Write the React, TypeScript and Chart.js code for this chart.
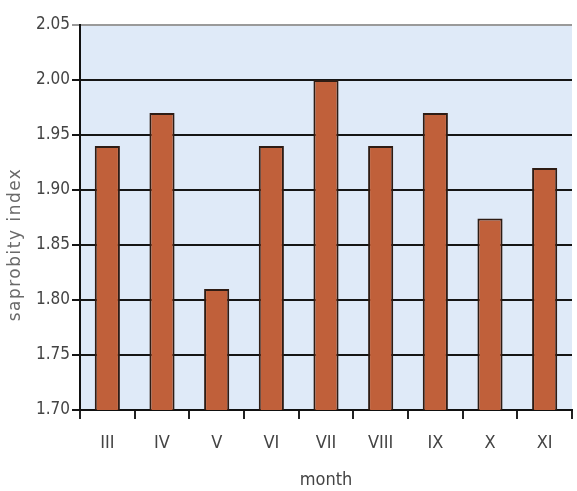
import React, { useEffect, useRef } from "react";
import { Chart, registerables } from "chart.js";

Chart.register(...registerables);

const months = ["III", "IV", "V", "VI", "VII", "VIII", "IX", "X", "XI"];
const saprobityIndex = [1.94, 1.97, 1.81, 1.94, 2.0, 1.94, 1.97, 1.874, 1.92];
const yTicks = [1.7, 1.75, 1.8, 1.85, 1.9, 1.95, 2.0, 2.05];
const yTitle = "saprobity index";

const FONT = "'Liberation Sans Narrow', 'DejaVu Sans Condensed', 'Arial Narrow', sans-serif";

const bgPlugin = {
  id: "plotBg",
  beforeDraw(chart: any) {
    const { ctx, chartArea } = chart;
    if (!chartArea) return;
    ctx.save();
    ctx.fillStyle = "#dfeaf8";
    ctx.fillRect(chartArea.left, chartArea.top, chartArea.right - chartArea.left, chartArea.bottom - chartArea.top);
    ctx.restore();
  },
  afterDraw(chart: any) {
    const { ctx, chartArea } = chart;
    ctx.save();
    ctx.translate(16, chartArea.top + (chartArea.bottom - chartArea.top) * 0.57);
    ctx.rotate(-Math.PI / 2);
    ctx.fillStyle = "#6a6a6a";
    ctx.font = "17px 'DejaVu Sans', sans-serif";
    (ctx as any).letterSpacing = "1.5px";
    ctx.textAlign = "center";
    ctx.textBaseline = "middle";
    ctx.fillText(yTitle, 0, 0);
    ctx.restore();
  },
};

export default function App() {
  const ref = useRef<HTMLCanvasElement>(null);
  useEffect(() => {
    if (!ref.current) return;
    const chart = new Chart(ref.current, {
      type: "bar",
      data: {
        labels: months,
        datasets: [
          {
            data: saprobityIndex,
            backgroundColor: "#c0603a",
            borderColor: "#2e1c14",
            borderWidth: 2,
            borderSkipped: "bottom",
            barPercentage: 0.46,
            categoryPercentage: 1,
          },
        ],
      },
      options: {
        animation: false,
        responsive: false,
        maintainAspectRatio: false,
        layout: { padding: { top: 25, right: 5, left: 0, bottom: 0 } },
        plugins: { legend: { display: false }, tooltip: { enabled: false } },
        scales: {
          x: {
            offset: true,
            grid: {
              offset: true,
              drawOnChartArea: false,
              drawTicks: true,
              tickLength: 9,
              color: "#222",
              lineWidth: 2,
            },
            border: { display: true, color: "#111", width: 2 },
            ticks: { color: "#444", font: { family: FONT, size: 18 }, padding: 14 },
            title: { display: true, text: "month", color: "#444", font: { family: FONT, size: 18 }, padding: { top: 4, bottom: 0 } },
            afterFit(axis: any) {
              axis.height = 81;
            },
          },
          y: {
            min: 1.7,
            max: 2.05,
            afterBuildTicks(axis: any) {
              axis.ticks = yTicks.map((v) => ({ value: v }));
            },
            grid: {
              color: (c: any) => (c.tick && Math.abs(c.tick.value - 2.05) < 1e-6 ? "#9a9a9a" : "#151515"),
              lineWidth: 2,
              tickLength: 8,
            },
            border: { display: true, color: "#111", width: 2 },
            ticks: {
              color: "#444",
              font: { family: FONT, size: 17 },
              padding: 2,
              callback: (v: any) => Number(v).toFixed(2),
            },
            afterFit(axis: any) {
              axis.width = 80;
            },
          },
        },
      },
      plugins: [bgPlugin],
    });
    return () => chart.destroy();
  }, []);
  return (
    <div style={{ position: "absolute", left: 0, top: 0, width: 577, height: 491, background: "#fff" }}>
      <canvas ref={ref} width={577} height={491} style={{ width: 577, height: 491 }} />
    </div>
  );
}
